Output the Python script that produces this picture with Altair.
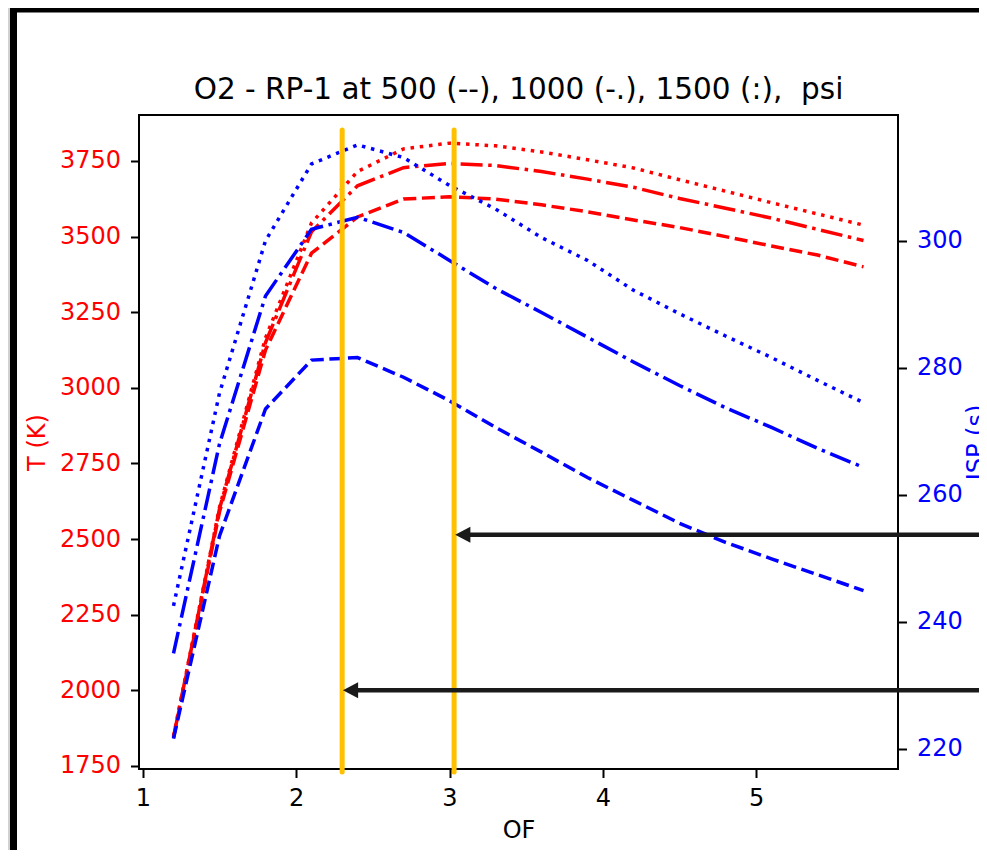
import altair as alt
import pandas as pd

# ---------------- data ----------------
of_values = [1.2, 1.5, 1.8, 2.1, 2.4, 2.7, 3.0, 3.3, 3.6, 3.9, 4.2, 4.5, 4.8, 5.1, 5.4, 5.7]
pressures = ["500", "1000", "1500"]

t_500 = [1843, 2590, 3125, 3445, 3565, 3624, 3632, 3624, 3605, 3582, 3555, 3530, 3500, 3469, 3439, 3400]
t_1000 = [1845, 2600, 3150, 3516, 3668, 3728, 3742, 3735, 3715, 3690, 3663, 3626, 3594, 3561, 3524, 3487]
t_1500 = [1848, 2605, 3165, 3545, 3715, 3790, 3809, 3800, 3780, 3754, 3727, 3688, 3650, 3612, 3575, 3538]

isp_500 = [221.6, 253.5, 273.5, 281.2, 281.6, 278.5, 274.8, 270.6, 266.7, 262.7, 259.1, 255.5, 252.5, 249.9, 247.4, 244.9]
isp_1000 = [235.0, 268.0, 291.3, 301.8, 303.7, 301.3, 296.9, 292.5, 288.7, 284.8, 280.9, 277.2, 273.7, 270.6, 267.3, 264.3]
isp_1500 = [242.5, 276.0, 300.0, 312.1, 315.1, 313.1, 308.7, 305.0, 300.5, 296.9, 292.2, 288.5, 285.0, 281.6, 278.0, 274.5]

t_ticks = [1750, 2000, 2250, 2500, 2750, 3000, 3250, 3500, 3750]
isp_ticks = [220, 240, 260, 280, 300]
of_ticks = [1, 2, 3, 4, 5]

# the reference title has two spaces before "psi" (second one kept as a no-break space)
title_text = ["O2 - RP-1 at 500 (--), 1000 (-.), 1500 (:), \u00a0psi"]

# annotation overlays (yellow markers and arrows)
marker_of = [2.30, 3.03]
marker_t_top = [3852, 3852]
marker_t_bottom = [1730, 1730]
arrow_tip_of = [3.037, 2.305]
arrow_t = [2514, 2000]
arrow_far_of = [6.7, 6.7]

# ---------------- build tables ----------------
t_df = pd.DataFrame({
    "OF": of_values * 3,
    "T": t_500 + t_1000 + t_1500,
    "p": [pressures[0]] * 16 + [pressures[1]] * 16 + [pressures[2]] * 16,
})
isp_df = pd.DataFrame({
    "OF": of_values * 3,
    "ISP": isp_500 + isp_1000 + isp_1500,
    "p": [pressures[0]] * 16 + [pressures[1]] * 16 + [pressures[2]] * 16,
})
marker_df = pd.DataFrame({"OF": marker_of, "top": marker_t_top, "bottom": marker_t_bottom})
arrow_df = pd.DataFrame({
    "tip": arrow_tip_of,
    "start": [v + 0.06 for v in arrow_tip_of],
    "far": arrow_far_of,
    "T": arrow_t,
})

FONT = "DejaVu Sans"
W, H = 759, 654
X_DOMAIN = [0.975, 5.925]
T_DOMAIN = [1740, 3902]
ISP_DOMAIN = [216.8, 319.8]

x_scale = alt.Scale(domain=X_DOMAIN, nice=False, zero=False)
x_axis = alt.Axis(
    values=of_ticks, format="d", title="OF", grid=False, domain=False, zindex=2,
    tickSize=8.5, tickWidth=2, tickColor="black",
    labelFont=FONT, labelFontSize=24, labelColor="black", labelPadding=9,
    titleFont=FONT, titleFontSize=24, titleFontWeight="normal", titleColor="black",
    titleX=W / 2, titleY=61, titleAlign="center", titleBaseline="middle",
)
t_scale = alt.Scale(domain=T_DOMAIN, nice=False, zero=False)
isp_scale = alt.Scale(domain=ISP_DOMAIN, nice=False, zero=False)

dash_scale = alt.Scale(
    domain=pressures,
    range=[[13, 5.6], [22, 5.6, 3.5, 5.6], [3.5, 5.8]],
)

one_row = pd.DataFrame({"a": [0]})

frame = alt.Chart(one_row).mark_rect(
    fill="white", stroke="black", strokeWidth=7
).encode(
    x=alt.value(-125.5), x2=alt.value(950), y=alt.value(-106), y2=alt.value(900)
)

plot_box = alt.Chart(one_row).mark_rect(
    fillOpacity=0, stroke="black", strokeWidth=2
).encode(
    x=alt.value(0), x2=alt.value(W), y=alt.value(0), y2=alt.value(H)
)

title_mark = alt.Chart(pd.DataFrame({"t": title_text})).mark_text(
    font=FONT, fontSize=29.5, color="black", align="center", baseline="alphabetic"
).encode(
    x=alt.value(W / 2), y=alt.value(-16.5), text="t:N"
)

red = alt.Chart(t_df).mark_line(color="red", strokeWidth=3.5, strokeCap="butt").encode(
    x=alt.X("OF:Q", scale=x_scale, axis=x_axis),
    y=alt.Y("T:Q", scale=t_scale,
            axis=alt.Axis(
                values=t_ticks, format="d", orient="left", title="T (K)", grid=False,
                domain=False, zindex=2,
                tickSize=8.5, tickWidth=2, tickColor="black",
                labelFont=FONT, labelFontSize=24, labelColor="red", labelPadding=10,
                titleFont=FONT, titleFontSize=24, titleFontWeight="normal", titleColor="red",
                titleAngle=270, titleX=-102, titleY=H / 2,
                titleAlign="center", titleBaseline="middle",
            )),
    strokeDash=alt.StrokeDash("p:N", scale=dash_scale, legend=None),
    detail="p:N",
)

blue = alt.Chart(isp_df).mark_line(color="#0000ff", strokeWidth=3.5, strokeCap="butt").encode(
    x=alt.X("OF:Q", scale=x_scale, axis=x_axis),
    y=alt.Y("ISP:Q", scale=isp_scale,
            axis=alt.Axis(
                values=isp_ticks, format="d", orient="right", title="ISP (s)", grid=False,
                domain=False, zindex=2,
                tickSize=8.5, tickWidth=2, tickColor="black",
                labelFont=FONT, labelFontSize=24, labelColor="#0000ff", labelPadding=10,
                titleFont=FONT, titleFontSize=24, titleFontWeight="normal", titleColor="#0000ff",
                titleAngle=270, titleX=78, titleY=H / 2,
                titleAlign="center", titleBaseline="middle",
            )),
    strokeDash=alt.StrokeDash("p:N", scale=dash_scale, legend=None),
    detail="p:N",
)

markers = alt.Chart(marker_df).mark_rule(color="#FFC000", strokeWidth=5, strokeCap="round").encode(
    x=alt.X("OF:Q", scale=x_scale, axis=x_axis),
    y=alt.Y("top:Q", scale=t_scale, axis=None),
    y2="bottom:Q",
)

arrow_lines = alt.Chart(arrow_df).mark_rule(color="#1a1a1a", strokeWidth=4.5).encode(
    x=alt.X("start:Q", scale=x_scale, axis=x_axis),
    x2="far:Q",
    y=alt.Y("T:Q", scale=t_scale, axis=None),
)

arrow_heads = alt.Chart(arrow_df).mark_point(
    shape="M-1,0L0.9,-1L0.9,1Z", filled=True, size=256, color="#1a1a1a", opacity=1, xOffset=8
).encode(
    x=alt.X("tip:Q", scale=x_scale, axis=x_axis),
    y=alt.Y("T:Q", scale=t_scale, axis=None),
)

chart = alt.layer(
    frame, plot_box, title_mark, red, blue, markers, arrow_lines, arrow_heads
).resolve_scale(
    y="independent"
).properties(
    width=W,
    height=H,
    padding={"left": 131, "top": 107, "right": 81, "bottom": 81},
    autosize=alt.AutoSizeParams(type="none"),
    background="#d0d1d3",
).configure_view(stroke=None, fill="white")

chart.save("out.html", embed_options={"renderer": "svg", "actions": False})
